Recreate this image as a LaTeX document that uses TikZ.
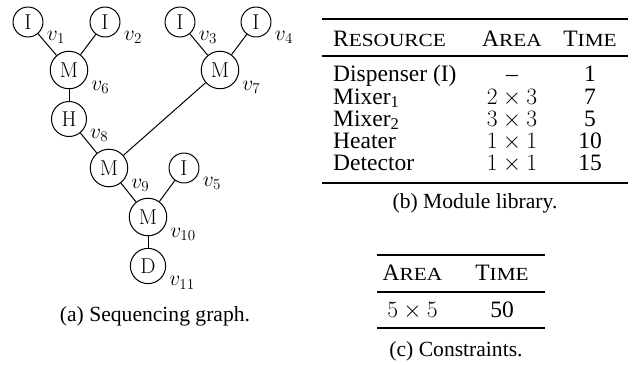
\RequirePackage{fix-cm}
\documentclass[tikz,border=0pt]{standalone}
\usepackage[no-math]{fontspec}
\setmainfont{Liberation Serif}
\usepackage{tikz}
\newcommand{\smc}[1]{{\fontsize{18.5}{18.5}\selectfont\addfontfeatures{FakeStretch=1.15}#1}}
\tikzset{
  op/.style    ={draw, circle, line width=1pt, inner sep=5pt,
                 font=\fontsize{21.5}{21.5}\selectfont},
  vlbl/.style  ={inner sep=1pt, label distance=4pt, font=\fontsize{21.5}{21.5}\selectfont},
  edge/.style  ={line width=1pt},
  tab/.style   ={inner sep=0pt, anchor=base, font=\fontsize{23.5}{23.5}\selectfont},
  capt/.style  ={inner sep=0pt, font=\fontsize{21.6}{21.6}\selectfont},
  hrule/.style ={line width=2pt},
  mrule/.style ={line width=1.2pt},
}
\begin{document}
\begin{tikzpicture}[x=1pt,y=-1pt]
\useasboundingbox (0,0) rectangle (639,364);

% (a) sequencing graph
\node[op,label={[vlbl]-25:$v_{1}$}]  (v1)  at (28,22)   {$\mathrm{I}$};
\node[op,label={[vlbl]-25:$v_{2}$}]  (v2)  at (105,22)  {$\mathrm{I}$};
\node[op,label={[vlbl]-25:$v_{3}$}]  (v3)  at (180,22)  {$\mathrm{I}$};
\node[op,label={[vlbl]-25:$v_{4}$}]  (v4)  at (256,22)  {$\mathrm{I}$};
\node[op,label={[vlbl]-25:$v_{6}$}]  (v6)  at (69,70)   {$\mathrm{M}$};
\node[op,label={[vlbl]-25:$v_{7}$}]  (v7)  at (220,70)  {$\mathrm{M}$};
\node[op,label={[vlbl]-25:$v_{8}$}]  (v8)  at (69,119)  {$\mathrm{H}$};
\node[op,label={[vlbl]-25:$v_{9}$}]  (v9)  at (109,168) {$\mathrm{M}$};
\node[op,label={[vlbl]-25:$v_{5}$}]  (v5)  at (184,168) {$\mathrm{I}$};
\node[op,label={[vlbl]-25:$v_{10}$}] (v10) at (148,217) {$\mathrm{M}$};
\node[op,label={[vlbl]-25:$v_{11}$}] (v11) at (148,266) {$\mathrm{D}$};
\foreach \a/\b in {v1/v6,v2/v6,v3/v7,v4/v7,v6/v8,v8/v9,v7/v9,v9/v10,v5/v10,v10/v11}
  \draw[edge] (\a) -- (\b);
\node[capt] (capa) at (155,316) {(a) Sequencing graph.};

% (b) module library
\draw[hrule] (322,19) -- (628,19);
\draw[mrule] (322,56) -- (628,56);
\draw[hrule] (322,183) -- (628,183);
\node[tab,anchor=base west] (hres)  at (333,46) {R\smc{ESOURCE}};
\node[tab] (harea) at (512,46) {A\smc{REA}};
\node[tab] (htime) at (590,46) {T\smc{IME}};
\node[tab,anchor=base west] (r1) at (333,81.7)  {Dispenser (I)};
\node[tab,anchor=base west] (r2) at (333,104)   {Mixer\textsubscript{1}};
\node[tab,anchor=base west] (r3) at (333,126.3) {Mixer\textsubscript{2}};
\node[tab,anchor=base west] (r4) at (333,148.6) {Heater};
\node[tab,anchor=base west] (r5) at (333,170.9) {Detector};
\node[tab] (a1) at (512,81.7)  {--};
\node[tab] (a2) at (512,104)   {$2\times3$};
\node[tab] (a3) at (512,126.3) {$3\times3$};
\node[tab] (a4) at (512,148.6) {$1\times1$};
\node[tab] (a5) at (512,170.9) {$1\times1$};
\node[tab] (t1) at (590,81.7)  {1};
\node[tab] (t2) at (590,104)   {7};
\node[tab] (t3) at (590,126.3) {5};
\node[tab] (t4) at (590,148.6) {10};
\node[tab] (t5) at (590,170.9) {15};
\node[capt] (capb) at (475,203) {(b) Module library.};

% (c) constraints
\draw[hrule] (377,255) -- (545,255);
\draw[mrule] (377,292) -- (545,292);
\draw[hrule] (377,328) -- (545,328);
\node[tab] (carea) at (412.5,280) {A\smc{REA}};
\node[tab] (ctime) at (502,280)   {T\smc{IME}};
\node[tab] (cval1) at (412.5,317) {$5\times5$};
\node[tab] (cval2) at (502,317)   {50};
\node[capt] (capc) at (456,351) {(c) Constraints.};
\end{tikzpicture}
\end{document}
